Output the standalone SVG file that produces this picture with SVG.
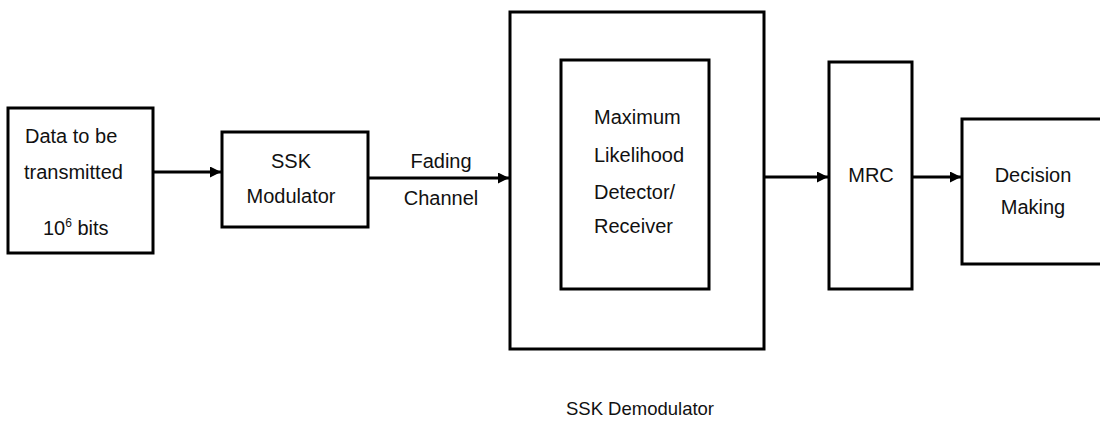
<svg xmlns="http://www.w3.org/2000/svg" width="1100" height="423" viewBox="0 0 1100 423">
<style>
.box{fill:#fff;stroke:#000;stroke-width:3}
.t{font-family:"Liberation Sans",Arial,sans-serif;font-size:20px;fill:#111}
.c{text-anchor:middle}
.ln{stroke:#000;stroke-width:2.8;fill:none}
</style>
<defs>
<marker id="ah" viewBox="0 0 10 10" refX="10" refY="5" markerWidth="13" markerHeight="11" markerUnits="userSpaceOnUse" orient="auto">
<path d="M0,0 L10,5 L0,10 z" fill="#000"/>
</marker>
</defs>
<rect width="1100" height="423" fill="#fff"/>
<g id="data">
<rect class="box" x="8" y="108" width="145" height="145"/>
<text class="t" x="25" y="143">Data to be</text>
<text class="t" x="24" y="179">transmitted</text>
<text class="t" x="43" y="235">10<tspan font-size="12" dy="-8">6</tspan><tspan dy="8"> bits</tspan></text>
</g>
<g id="modulator">
<rect class="box" x="222" y="132" width="146" height="95"/>
<text class="t c" x="291" y="168">SSK</text>
<text class="t c" x="291" y="203">Modulator</text>
</g>
<g id="demodulator">
<rect class="box" x="510" y="12" width="254" height="337"/>
<text class="t c" x="640" y="415" style="font-size:18.5px">SSK Demodulator</text>
</g>
<g id="detector">
<rect class="box" x="561" y="60" width="148" height="229"/>
<text class="t" x="594" y="124">Maximum</text>
<text class="t" x="594" y="162">Likelihood</text>
<text class="t" x="594" y="199">Detector/</text>
<text class="t" x="594" y="233">Receiver</text>
</g>
<g id="mrc">
<rect class="box" x="829" y="62" width="83" height="227"/>
<text class="t c" x="871" y="182">MRC</text>
</g>
<g id="decision">
<rect class="box" x="962" y="119" width="140" height="145"/>
<text class="t c" x="1033" y="182">Decision</text>
<text class="t c" x="1033" y="214">Making</text>
</g>
<g id="connectors">
<line class="ln" x1="153" y1="172" x2="221" y2="172" marker-end="url(#ah)"/>
<line class="ln" x1="368" y1="178" x2="509" y2="178" marker-end="url(#ah)"/>
<text class="t c" x="441" y="168">Fading</text>
<text class="t c" x="441" y="205">Channel</text>
<line class="ln" x1="764" y1="177" x2="828" y2="177" marker-end="url(#ah)"/>
<line class="ln" x1="912" y1="177" x2="961" y2="177" marker-end="url(#ah)"/>
</g>
</svg>
